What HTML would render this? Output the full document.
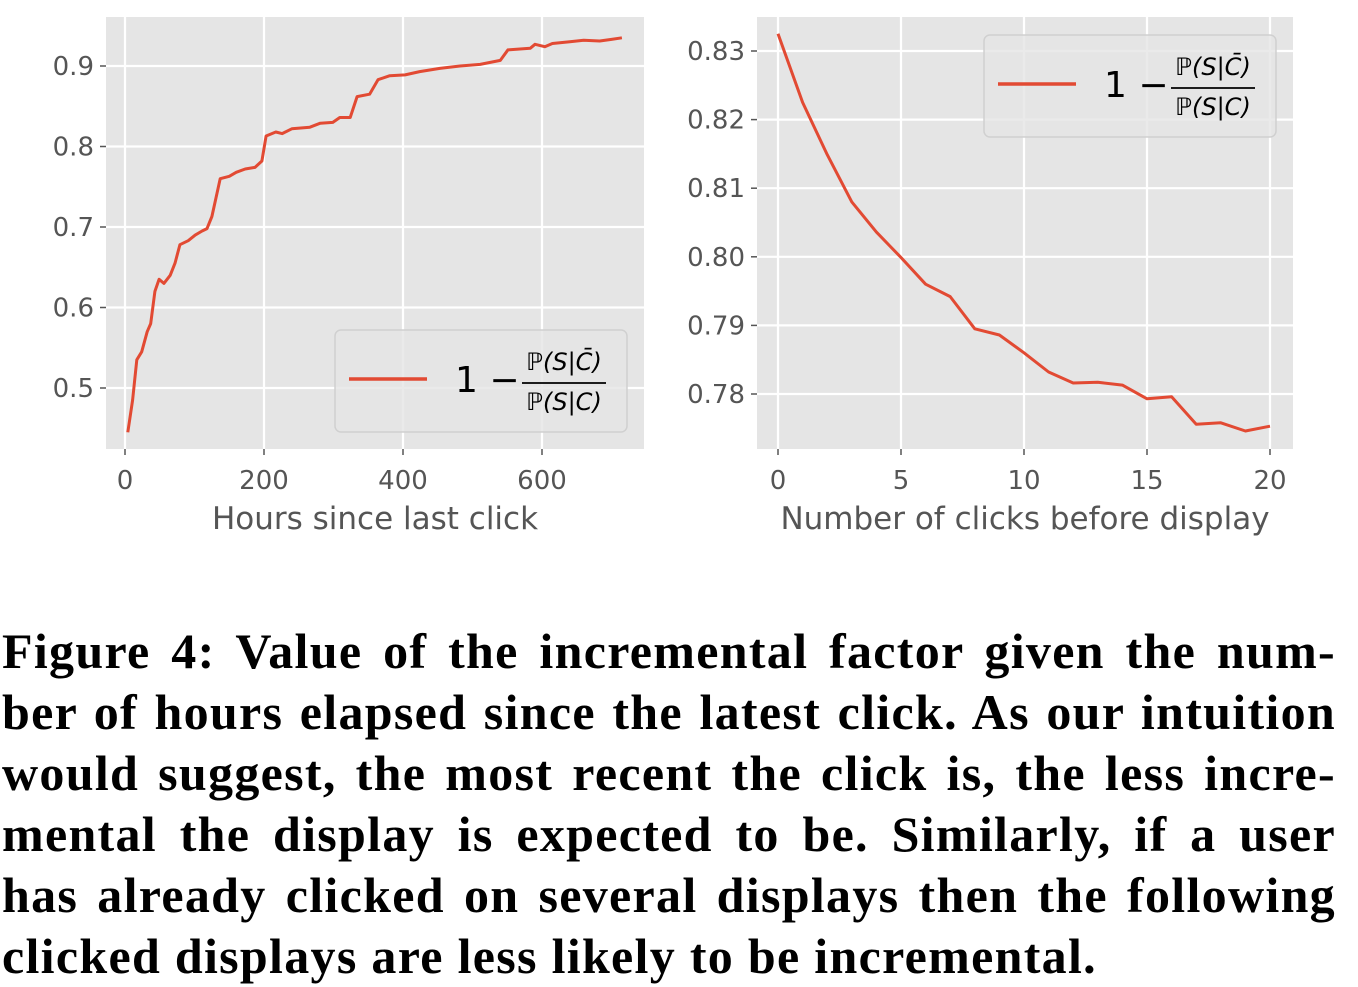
<!DOCTYPE html>
<html><head><meta charset="utf-8"><style>
body{margin:0;width:1358px;height:980px;background:#fff;overflow:hidden;position:relative}
svg text{font-family:"DejaVu Sans","Liberation Sans",sans-serif}
#cap{position:absolute;left:2px;top:621px;width:1334px;font-family:"Liberation Serif",serif;font-weight:bold;font-size:50px;letter-spacing:1.3px;line-height:61px;color:#000}
#cap div{text-align:justify;text-align-last:justify;white-space:nowrap}
#cap div.last{text-align-last:left}
</style></head><body>
<svg id="chart" width="1358" height="600" style="position:absolute;left:0;top:0"></svg>
<div id="cap">
<div>Figure 4: Value of the incremental factor given the num-</div>
<div>ber of hours elapsed since the latest click. As our intuition</div>
<div>would suggest, the most recent the click is, the less incre-</div>
<div>mental the display is expected to be. Similarly, if a user</div>
<div>has already clicked on several displays then the following</div>
<div class="last">clicked displays are less likely to be incremental.</div>
</div>
<script>
const hours=[4,11,17,24,32,37,43,49,56,65,72,79,91,101,111,118,125,137,150,160,173,187,197,203,217,226,240,266,281,299,309,324,334,352,364,381,403,424,453,482,511,540,551,583,590,604,615,640,660,683,700,715];
const hourVals=[0.445,0.485,0.535,0.545,0.57,0.58,0.62,0.635,0.63,0.64,0.655,0.678,0.683,0.69,0.695,0.698,0.713,0.76,0.763,0.768,0.772,0.774,0.782,0.813,0.818,0.816,0.822,0.824,0.829,0.830,0.836,0.836,0.862,0.865,0.883,0.888,0.889,0.893,0.897,0.900,0.902,0.907,0.920,0.922,0.927,0.924,0.928,0.930,0.932,0.931,0.933,0.935];
const clicks=[0,1,2,3,4,5,6,7,8,9,10,11,12,13,14,15,16,17,18,19,20];
const clickVals=[0.8325,0.8225,0.8149,0.808,0.8036,0.7999,0.796,0.7942,0.7895,0.7886,0.786,0.7832,0.7816,0.7817,0.7813,0.7793,0.7796,0.7756,0.7758,0.7746,0.7753];
const leftXTicks=[0,200,400,600];
const leftYTicks=[0.5,0.6,0.7,0.8,0.9];
const rightXTicks=[0,5,10,15,20];
const rightYTicks=[0.78,0.79,0.80,0.81,0.82,0.83];
const NS="http://www.w3.org/2000/svg";
const svg=document.getElementById('chart');
function mk(t,a,p){const e=document.createElementNS(NS,t);for(const k in a)e.setAttribute(k,a[k]);(p||svg).appendChild(e);return e;}
function panel(o){
  const g=mk('g',{});
  
  
  const bg=mk('rect',{x:o.x0,y:o.y0,width:o.x1-o.x0,height:o.y1-o.y0,fill:'#e5e5e5'},g);
  
  
  o.xt.forEach(v=>{const x=o.fx(v);
    const l=mk('line',{x1:x,x2:x,y1:o.y0,y2:o.y1,stroke:'#fff','stroke-width':2.2},g);
    
    
    mk('line',{x1:x,x2:x,y1:o.y1,y2:o.y1+6,stroke:'#555','stroke-width':1.5},g);
    const t=mk('text',{x:x,y:o.y1+40,'text-anchor':'middle','font-size':26,fill:'#555'},g);t.textContent=String(v);
    
    });
  o.yt.forEach(v=>{const y=o.fy(v);
    const l=mk('line',{x1:o.x0,x2:o.x1,y1:y,y2:y,stroke:'#fff','stroke-width':2.2},g);
    
    
    mk('line',{x1:o.x0-6,x2:o.x0,y1:y,y2:y,stroke:'#555','stroke-width':1.5},g);
    const t=mk('text',{x:o.x0-12,y:y+9,'text-anchor':'end','font-size':26,fill:'#555'},g);t.textContent=o.yfmt(v);
    
    });
  const d=o.xs.map((v,i)=>(i?'L':'M')+o.fx(v).toFixed(1)+' '+o.fy(o.ys[i]).toFixed(1)).join(' ');
  const p=mk('path',{d:d,fill:'none',stroke:'#e24a33','stroke-width':3,'stroke-linejoin':'round'},g);
  
  
  const xl=mk('text',{x:(o.x0+o.x1)/2,y:o.y1+80,'text-anchor':'middle','font-size':31,fill:'#555'},g);xl.textContent=o.xlabel;
  
  
  const lx=o.lx,ly=o.ly;
  const lg=mk('g',{},g);
  
  
  mk('rect',{x:lx,y:ly,width:292,height:102,rx:6,fill:'#e5e5e5','fill-opacity':0.8,stroke:'#d0d0d0','stroke-width':1.5},lg);
  const ls=mk('line',{x1:lx+14,x2:lx+92,y1:ly+49,y2:ly+49,stroke:'#e24a33','stroke-width':3.5},lg);
  
  
  const t1=mk('text',{x:lx+120,y:ly+62,'font-size':36,fill:'#000'},lg);t1.textContent='1 −';
  
  
  mk('line',{x1:lx+187,x2:lx+271,y1:ly+53,y2:ly+53,stroke:'#000','stroke-width':1.8},lg);
  const n=mk('text',{x:lx+229,y:ly+40,'text-anchor':'middle','font-size':24,fill:'#000','font-style':'italic'},lg);n.textContent='ℙ(S|C̄)';
  const dd=mk('text',{x:lx+229,y:ly+80,'text-anchor':'middle','font-size':24,fill:'#000','font-style':'italic'},lg);dd.textContent='ℙ(S|C)';
}
panel({name:'left-chart',x0:106,x1:644,y0:17,y1:449,fx:v=>125+v*0.695,fy:v=>66+(0.9-v)*805,xt:leftXTicks,yt:leftYTicks,yfmt:v=>v.toFixed(1),xs:hours,ys:hourVals,xlabel:'Hours since last click',lx:335,ly:330});
panel({name:'right-chart',x0:757,x1:1293,y0:17,y1:449,fx:v=>778+v*24.6,fy:v=>51+(0.83-v)*6860,xt:rightXTicks,yt:rightYTicks,yfmt:v=>v.toFixed(2),xs:clicks,ys:clickVals,xlabel:'Number of clicks before display',lx:984,ly:35});
</script>
</body></html>
